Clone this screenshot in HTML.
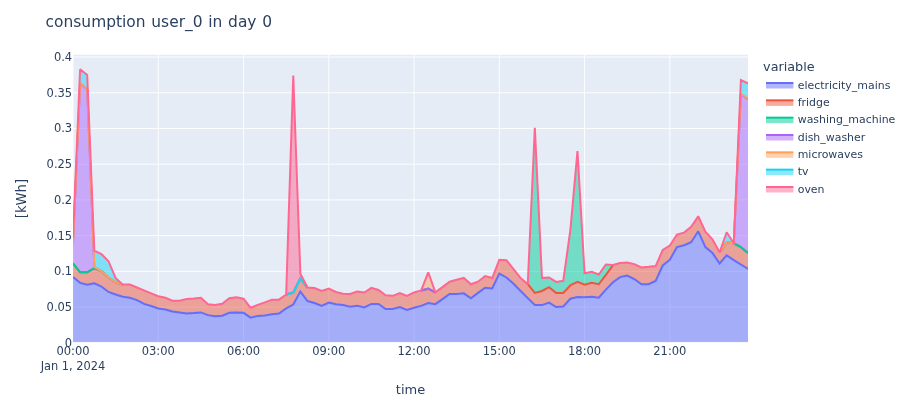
<!DOCTYPE html>
<html><head><meta charset="utf-8"><title>consumption user_0 in day 0</title>
<style>
html,body{margin:0;padding:0;background:#fff;}
svg{display:block;}
text{font-family:"DejaVu Sans", "Liberation Sans", sans-serif;fill:#2a3f5f;}
</style></head><body>
<svg width="912" height="415" viewBox="0 0 912 415">
<rect x="0" y="0" width="912" height="415" fill="#ffffff"/>
<rect x="73.0" y="54.7" width="675.0" height="287.6" fill="#E5ECF6"/>
<defs><clipPath id="cp"><rect x="73.0" y="54.7" width="675.0" height="287.6"/></clipPath></defs>
<g clip-path="url(#cp)">

<line x1="73.00" x2="73.00" y1="54.7" y2="342.3" stroke="#fff" stroke-width="0.91"/>
<line x1="158.26" x2="158.26" y1="54.7" y2="342.3" stroke="#fff" stroke-width="0.91"/>
<line x1="243.53" x2="243.53" y1="54.7" y2="342.3" stroke="#fff" stroke-width="0.91"/>
<line x1="328.79" x2="328.79" y1="54.7" y2="342.3" stroke="#fff" stroke-width="0.91"/>
<line x1="414.05" x2="414.05" y1="54.7" y2="342.3" stroke="#fff" stroke-width="0.91"/>
<line x1="499.32" x2="499.32" y1="54.7" y2="342.3" stroke="#fff" stroke-width="0.91"/>
<line x1="584.58" x2="584.58" y1="54.7" y2="342.3" stroke="#fff" stroke-width="0.91"/>
<line x1="669.84" x2="669.84" y1="54.7" y2="342.3" stroke="#fff" stroke-width="0.91"/>
<line x1="73.0" x2="748.0" y1="307.12" y2="307.12" stroke="#fff" stroke-width="0.91"/>
<line x1="73.0" x2="748.0" y1="271.39" y2="271.39" stroke="#fff" stroke-width="0.91"/>
<line x1="73.0" x2="748.0" y1="235.66" y2="235.66" stroke="#fff" stroke-width="0.91"/>
<line x1="73.0" x2="748.0" y1="199.93" y2="199.93" stroke="#fff" stroke-width="0.91"/>
<line x1="73.0" x2="748.0" y1="164.20" y2="164.20" stroke="#fff" stroke-width="0.91"/>
<line x1="73.0" x2="748.0" y1="128.47" y2="128.47" stroke="#fff" stroke-width="0.91"/>
<line x1="73.0" x2="748.0" y1="92.74" y2="92.74" stroke="#fff" stroke-width="0.91"/>
<line x1="73.0" x2="748.0" y1="57.01" y2="57.01" stroke="#fff" stroke-width="0.91"/>
<line x1="73.0" x2="748.0" y1="342.3" y2="342.3" stroke="#fff" stroke-width="1.82"/>
<polygon points="73.00,276.90 80.11,282.88 87.21,284.81 94.32,283.27 101.42,286.55 108.53,291.96 115.63,294.47 122.74,296.78 129.84,297.75 136.95,300.07 144.05,303.93 151.16,306.05 158.26,308.56 165.37,309.53 172.47,311.46 179.58,312.42 186.68,313.39 193.79,313.00 200.89,312.42 208.00,315.12 215.11,316.28 222.21,315.70 229.32,312.81 236.42,312.42 243.53,312.81 250.63,317.63 257.74,315.90 264.84,315.51 271.95,314.16 279.05,313.58 286.16,308.37 293.26,304.51 300.37,291.57 307.47,301.03 314.58,302.96 321.68,305.86 328.79,302.58 335.89,304.31 343.00,305.08 350.11,306.82 357.21,305.86 364.32,307.40 371.42,303.93 378.53,303.93 385.63,308.95 392.74,308.95 399.84,307.02 406.95,309.91 414.05,307.79 421.16,305.86 428.26,302.96 435.37,304.12 442.47,299.10 449.58,293.89 456.68,294.08 463.79,293.31 470.89,298.33 478.00,292.92 485.11,287.71 492.21,288.48 499.32,273.62 506.42,277.48 513.53,283.85 520.63,290.99 527.74,298.14 534.84,305.08 541.95,305.08 549.05,302.58 556.16,307.02 563.26,306.44 570.37,298.71 577.47,296.98 584.58,297.36 591.68,296.78 598.79,297.75 605.89,289.64 613.00,282.31 620.11,277.09 627.21,275.55 634.32,279.02 641.42,284.24 648.53,284.24 655.63,280.95 662.74,265.46 669.84,259.67 676.95,247.12 684.05,245.19 691.16,242.30 698.26,231.29 705.37,247.12 712.47,252.92 719.58,263.53 726.68,255.42 733.79,260.06 740.89,264.50 748.00,268.94 748.00,342.30 740.89,342.30 733.79,342.30 726.68,342.30 719.58,342.30 712.47,342.30 705.37,342.30 698.26,342.30 691.16,342.30 684.05,342.30 676.95,342.30 669.84,342.30 662.74,342.30 655.63,342.30 648.53,342.30 641.42,342.30 634.32,342.30 627.21,342.30 620.11,342.30 613.00,342.30 605.89,342.30 598.79,342.30 591.68,342.30 584.58,342.30 577.47,342.30 570.37,342.30 563.26,342.30 556.16,342.30 549.05,342.30 541.95,342.30 534.84,342.30 527.74,342.30 520.63,342.30 513.53,342.30 506.42,342.30 499.32,342.30 492.21,342.30 485.11,342.30 478.00,342.30 470.89,342.30 463.79,342.30 456.68,342.30 449.58,342.30 442.47,342.30 435.37,342.30 428.26,342.30 421.16,342.30 414.05,342.30 406.95,342.30 399.84,342.30 392.74,342.30 385.63,342.30 378.53,342.30 371.42,342.30 364.32,342.30 357.21,342.30 350.11,342.30 343.00,342.30 335.89,342.30 328.79,342.30 321.68,342.30 314.58,342.30 307.47,342.30 300.37,342.30 293.26,342.30 286.16,342.30 279.05,342.30 271.95,342.30 264.84,342.30 257.74,342.30 250.63,342.30 243.53,342.30 236.42,342.30 229.32,342.30 222.21,342.30 215.11,342.30 208.00,342.30 200.89,342.30 193.79,342.30 186.68,342.30 179.58,342.30 172.47,342.30 165.37,342.30 158.26,342.30 151.16,342.30 144.05,342.30 136.95,342.30 129.84,342.30 122.74,342.30 115.63,342.30 108.53,342.30 101.42,342.30 94.32,342.30 87.21,342.30 80.11,342.30 73.00,342.30" fill="#636EFA" fill-opacity="0.5" stroke="none"/>
<polygon points="73.00,263.50 80.11,272.30 87.21,272.30 94.32,268.20 101.42,271.10 108.53,277.50 115.63,282.30 122.74,284.62 129.84,284.62 136.95,287.52 144.05,290.41 151.16,293.31 158.26,296.20 165.37,297.75 172.47,300.64 179.58,300.84 186.68,299.10 193.79,298.52 200.89,297.75 208.00,304.31 215.11,304.89 222.21,303.73 229.32,298.14 236.42,297.17 243.53,298.71 250.63,307.79 257.74,304.89 264.84,302.38 271.95,299.68 279.05,299.68 286.16,294.47 293.26,292.54 300.37,278.44 307.47,287.52 314.58,288.10 321.68,290.99 328.79,288.48 335.89,291.96 343.00,293.69 350.11,293.89 357.21,291.57 364.32,292.54 371.42,287.90 378.53,290.03 385.63,295.24 392.74,295.82 399.84,293.12 406.95,295.82 414.05,292.34 421.16,290.41 428.26,288.68 435.37,292.34 442.47,287.13 449.58,281.73 456.68,279.80 463.79,277.86 470.89,284.24 478.00,281.73 485.11,276.13 492.21,278.06 499.32,259.80 506.42,260.20 513.53,269.18 520.63,278.06 527.74,284.24 534.84,292.92 541.95,290.99 549.05,287.13 556.16,292.92 563.26,292.92 570.37,285.20 577.47,281.92 584.58,284.62 591.68,282.69 598.79,284.24 605.89,274.97 613.00,265.08 620.11,262.95 627.21,262.57 634.32,264.11 641.42,267.39 648.53,266.81 655.63,266.04 662.74,250.02 669.84,245.58 676.95,234.58 684.05,232.64 691.16,226.85 698.26,216.24 705.37,231.68 712.47,239.40 719.58,252.34 726.68,242.30 733.79,243.26 740.89,247.12 748.00,252.92 748.00,268.94 740.89,264.50 733.79,260.06 726.68,255.42 719.58,263.53 712.47,252.92 705.37,247.12 698.26,231.29 691.16,242.30 684.05,245.19 676.95,247.12 669.84,259.67 662.74,265.46 655.63,280.95 648.53,284.24 641.42,284.24 634.32,279.02 627.21,275.55 620.11,277.09 613.00,282.31 605.89,289.64 598.79,297.75 591.68,296.78 584.58,297.36 577.47,296.98 570.37,298.71 563.26,306.44 556.16,307.02 549.05,302.58 541.95,305.08 534.84,305.08 527.74,298.14 520.63,290.99 513.53,283.85 506.42,277.48 499.32,273.62 492.21,288.48 485.11,287.71 478.00,292.92 470.89,298.33 463.79,293.31 456.68,294.08 449.58,293.89 442.47,299.10 435.37,304.12 428.26,302.96 421.16,305.86 414.05,307.79 406.95,309.91 399.84,307.02 392.74,308.95 385.63,308.95 378.53,303.93 371.42,303.93 364.32,307.40 357.21,305.86 350.11,306.82 343.00,305.08 335.89,304.31 328.79,302.58 321.68,305.86 314.58,302.96 307.47,301.03 300.37,291.57 293.26,304.51 286.16,308.37 279.05,313.58 271.95,314.16 264.84,315.51 257.74,315.90 250.63,317.63 243.53,312.81 236.42,312.42 229.32,312.81 222.21,315.70 215.11,316.28 208.00,315.12 200.89,312.42 193.79,313.00 186.68,313.39 179.58,312.42 172.47,311.46 165.37,309.53 158.26,308.56 151.16,306.05 144.05,303.93 136.95,300.07 129.84,297.75 122.74,296.78 115.63,294.47 108.53,291.96 101.42,286.55 94.32,283.27 87.21,284.81 80.11,282.88 73.00,276.90" fill="#EF553B" fill-opacity="0.5" stroke="none"/>
<polyline points="73.00,276.90 80.11,282.88 87.21,284.81 94.32,283.27 101.42,286.55 108.53,291.96 115.63,294.47 122.74,296.78 129.84,297.75 136.95,300.07 144.05,303.93 151.16,306.05 158.26,308.56 165.37,309.53 172.47,311.46 179.58,312.42 186.68,313.39 193.79,313.00 200.89,312.42 208.00,315.12 215.11,316.28 222.21,315.70 229.32,312.81 236.42,312.42 243.53,312.81 250.63,317.63 257.74,315.90 264.84,315.51 271.95,314.16 279.05,313.58 286.16,308.37 293.26,304.51 300.37,291.57 307.47,301.03 314.58,302.96 321.68,305.86 328.79,302.58 335.89,304.31 343.00,305.08 350.11,306.82 357.21,305.86 364.32,307.40 371.42,303.93 378.53,303.93 385.63,308.95 392.74,308.95 399.84,307.02 406.95,309.91 414.05,307.79 421.16,305.86 428.26,302.96 435.37,304.12 442.47,299.10 449.58,293.89 456.68,294.08 463.79,293.31 470.89,298.33 478.00,292.92 485.11,287.71 492.21,288.48 499.32,273.62 506.42,277.48 513.53,283.85 520.63,290.99 527.74,298.14 534.84,305.08 541.95,305.08 549.05,302.58 556.16,307.02 563.26,306.44 570.37,298.71 577.47,296.98 584.58,297.36 591.68,296.78 598.79,297.75 605.89,289.64 613.00,282.31 620.11,277.09 627.21,275.55 634.32,279.02 641.42,284.24 648.53,284.24 655.63,280.95 662.74,265.46 669.84,259.67 676.95,247.12 684.05,245.19 691.16,242.30 698.26,231.29 705.37,247.12 712.47,252.92 719.58,263.53 726.68,255.42 733.79,260.06 740.89,264.50 748.00,268.94" fill="none" stroke="#636EFA" stroke-width="2.0" stroke-linejoin="miter" stroke-miterlimit="2"/>
<polygon points="73.00,263.50 80.11,272.30 87.21,272.30 94.32,268.20 101.42,271.10 108.53,277.50 115.63,282.30 122.74,284.62 129.84,284.62 136.95,287.52 144.05,290.41 151.16,293.31 158.26,296.20 165.37,297.75 172.47,300.64 179.58,300.84 186.68,299.10 193.79,298.52 200.89,297.75 208.00,304.31 215.11,304.89 222.21,303.73 229.32,298.14 236.42,297.17 243.53,298.71 250.63,307.79 257.74,304.89 264.84,302.38 271.95,299.68 279.05,299.68 286.16,294.47 293.26,292.54 300.37,278.44 307.47,287.52 314.58,288.10 321.68,290.99 328.79,288.48 335.89,291.96 343.00,293.69 350.11,293.89 357.21,291.57 364.32,292.54 371.42,287.90 378.53,290.03 385.63,295.24 392.74,295.82 399.84,293.12 406.95,295.82 414.05,292.34 421.16,290.41 428.26,288.68 435.37,292.34 442.47,287.13 449.58,281.73 456.68,279.80 463.79,277.86 470.89,284.24 478.00,281.73 485.11,276.13 492.21,278.06 499.32,259.80 506.42,260.20 513.53,269.18 520.63,278.06 527.74,284.24 534.84,127.80 541.95,278.06 549.05,277.48 556.16,281.92 563.26,280.76 570.37,230.00 577.47,151.00 584.58,273.19 591.68,271.83 598.79,274.54 605.89,264.50 613.00,265.08 620.11,262.95 627.21,262.57 634.32,264.11 641.42,267.39 648.53,266.81 655.63,266.04 662.74,250.02 669.84,245.58 676.95,234.58 684.05,232.64 691.16,226.85 698.26,216.24 705.37,231.68 712.47,239.40 719.58,252.34 726.68,242.30 733.79,243.26 740.89,247.12 748.00,252.92 748.00,252.92 740.89,247.12 733.79,243.26 726.68,242.30 719.58,252.34 712.47,239.40 705.37,231.68 698.26,216.24 691.16,226.85 684.05,232.64 676.95,234.58 669.84,245.58 662.74,250.02 655.63,266.04 648.53,266.81 641.42,267.39 634.32,264.11 627.21,262.57 620.11,262.95 613.00,265.08 605.89,274.97 598.79,284.24 591.68,282.69 584.58,284.62 577.47,281.92 570.37,285.20 563.26,292.92 556.16,292.92 549.05,287.13 541.95,290.99 534.84,292.92 527.74,284.24 520.63,278.06 513.53,269.18 506.42,260.20 499.32,259.80 492.21,278.06 485.11,276.13 478.00,281.73 470.89,284.24 463.79,277.86 456.68,279.80 449.58,281.73 442.47,287.13 435.37,292.34 428.26,288.68 421.16,290.41 414.05,292.34 406.95,295.82 399.84,293.12 392.74,295.82 385.63,295.24 378.53,290.03 371.42,287.90 364.32,292.54 357.21,291.57 350.11,293.89 343.00,293.69 335.89,291.96 328.79,288.48 321.68,290.99 314.58,288.10 307.47,287.52 300.37,278.44 293.26,292.54 286.16,294.47 279.05,299.68 271.95,299.68 264.84,302.38 257.74,304.89 250.63,307.79 243.53,298.71 236.42,297.17 229.32,298.14 222.21,303.73 215.11,304.89 208.00,304.31 200.89,297.75 193.79,298.52 186.68,299.10 179.58,300.84 172.47,300.64 165.37,297.75 158.26,296.20 151.16,293.31 144.05,290.41 136.95,287.52 129.84,284.62 122.74,284.62 115.63,282.30 108.53,277.50 101.42,271.10 94.32,268.20 87.21,272.30 80.11,272.30 73.00,263.50" fill="#00CC96" fill-opacity="0.5" stroke="none"/>
<polyline points="73.00,263.50 80.11,272.30 87.21,272.30 94.32,268.20 101.42,271.10 108.53,277.50 115.63,282.30 122.74,284.62" fill="none" stroke="#EF553B" stroke-width="2.0" stroke-linejoin="miter" stroke-miterlimit="2"/>
<polyline points="286.16,294.47 293.26,292.54 300.37,278.44 307.47,287.52" fill="none" stroke="#EF553B" stroke-width="2.0" stroke-linejoin="miter" stroke-miterlimit="2"/>
<polyline points="421.16,290.41 428.26,288.68 435.37,292.34" fill="none" stroke="#EF553B" stroke-width="2.0" stroke-linejoin="miter" stroke-miterlimit="2"/>
<polyline points="527.74,284.24 534.84,292.92 541.95,290.99 549.05,287.13 556.16,292.92 563.26,292.92 570.37,285.20 577.47,281.92 584.58,284.62 591.68,282.69 598.79,284.24 605.89,274.97 613.00,265.08" fill="none" stroke="#EF553B" stroke-width="2.0" stroke-linejoin="miter" stroke-miterlimit="2"/>
<polyline points="719.58,252.34 726.68,242.30 733.79,243.26 740.89,247.12 748.00,252.92" fill="none" stroke="#EF553B" stroke-width="2.0" stroke-linejoin="miter" stroke-miterlimit="2"/>
<polygon points="73.00,245.30 80.11,83.60 87.21,88.90 94.32,267.20 101.42,271.10 108.53,277.50 115.63,282.30 122.74,284.62 129.84,284.62 136.95,287.52 144.05,290.41 151.16,293.31 158.26,296.20 165.37,297.75 172.47,300.64 179.58,300.84 186.68,299.10 193.79,298.52 200.89,297.75 208.00,304.31 215.11,304.89 222.21,303.73 229.32,298.14 236.42,297.17 243.53,298.71 250.63,307.79 257.74,304.89 264.84,302.38 271.95,299.68 279.05,299.68 286.16,294.47 293.26,292.54 300.37,278.44 307.47,287.52 314.58,288.10 321.68,290.99 328.79,288.48 335.89,291.96 343.00,293.69 350.11,293.89 357.21,291.57 364.32,292.54 371.42,287.90 378.53,290.03 385.63,295.24 392.74,295.82 399.84,293.12 406.95,295.82 414.05,292.34 421.16,290.41 428.26,288.68 435.37,292.34 442.47,287.13 449.58,281.73 456.68,279.80 463.79,277.86 470.89,284.24 478.00,281.73 485.11,276.13 492.21,278.06 499.32,259.80 506.42,260.20 513.53,269.18 520.63,278.06 527.74,284.24 534.84,127.80 541.95,278.06 549.05,277.48 556.16,281.92 563.26,280.76 570.37,230.00 577.47,151.00 584.58,273.19 591.68,271.83 598.79,274.54 605.89,264.50 613.00,265.08 620.11,262.95 627.21,262.57 634.32,264.11 641.42,267.39 648.53,266.81 655.63,266.04 662.74,250.02 669.84,245.58 676.95,234.58 684.05,232.64 691.16,226.85 698.26,216.24 705.37,231.68 712.47,239.40 719.58,252.34 726.68,242.30 733.79,243.26 740.89,94.10 748.00,99.10 748.00,252.92 740.89,247.12 733.79,243.26 726.68,242.30 719.58,252.34 712.47,239.40 705.37,231.68 698.26,216.24 691.16,226.85 684.05,232.64 676.95,234.58 669.84,245.58 662.74,250.02 655.63,266.04 648.53,266.81 641.42,267.39 634.32,264.11 627.21,262.57 620.11,262.95 613.00,265.08 605.89,264.50 598.79,274.54 591.68,271.83 584.58,273.19 577.47,151.00 570.37,230.00 563.26,280.76 556.16,281.92 549.05,277.48 541.95,278.06 534.84,127.80 527.74,284.24 520.63,278.06 513.53,269.18 506.42,260.20 499.32,259.80 492.21,278.06 485.11,276.13 478.00,281.73 470.89,284.24 463.79,277.86 456.68,279.80 449.58,281.73 442.47,287.13 435.37,292.34 428.26,288.68 421.16,290.41 414.05,292.34 406.95,295.82 399.84,293.12 392.74,295.82 385.63,295.24 378.53,290.03 371.42,287.90 364.32,292.54 357.21,291.57 350.11,293.89 343.00,293.69 335.89,291.96 328.79,288.48 321.68,290.99 314.58,288.10 307.47,287.52 300.37,278.44 293.26,292.54 286.16,294.47 279.05,299.68 271.95,299.68 264.84,302.38 257.74,304.89 250.63,307.79 243.53,298.71 236.42,297.17 229.32,298.14 222.21,303.73 215.11,304.89 208.00,304.31 200.89,297.75 193.79,298.52 186.68,299.10 179.58,300.84 172.47,300.64 165.37,297.75 158.26,296.20 151.16,293.31 144.05,290.41 136.95,287.52 129.84,284.62 122.74,284.62 115.63,282.30 108.53,277.50 101.42,271.10 94.32,268.20 87.21,272.30 80.11,272.30 73.00,263.50" fill="#AB63FA" fill-opacity="0.5" stroke="none"/>
<polyline points="73.00,263.50 80.11,272.30 87.21,272.30 94.32,268.20 101.42,271.10 108.53,277.50 115.63,282.30 122.74,284.62" fill="none" stroke="#00CC96" stroke-width="2.0" stroke-linejoin="miter" stroke-miterlimit="2"/>
<polyline points="286.16,294.47 293.26,292.54 300.37,278.44 307.47,287.52" fill="none" stroke="#00CC96" stroke-width="2.0" stroke-linejoin="miter" stroke-miterlimit="2"/>
<polyline points="421.16,290.41 428.26,288.68 435.37,292.34" fill="none" stroke="#00CC96" stroke-width="2.0" stroke-linejoin="miter" stroke-miterlimit="2"/>
<polyline points="719.58,252.34 726.68,242.30 733.79,243.26 740.89,247.12 748.00,252.92" fill="none" stroke="#00CC96" stroke-width="2.0" stroke-linejoin="miter" stroke-miterlimit="2"/>
<polygon points="73.00,245.00 80.11,83.30 87.21,88.60 94.32,267.00 101.42,271.10 108.53,277.50 115.63,282.30 122.74,284.62 129.84,284.62 136.95,287.52 144.05,290.41 151.16,293.31 158.26,296.20 165.37,297.75 172.47,300.64 179.58,300.84 186.68,299.10 193.79,298.52 200.89,297.75 208.00,304.31 215.11,304.89 222.21,303.73 229.32,298.14 236.42,297.17 243.53,298.71 250.63,307.79 257.74,304.89 264.84,302.38 271.95,299.68 279.05,299.68 286.16,294.47 293.26,292.54 300.37,278.44 307.47,287.52 314.58,288.10 321.68,290.99 328.79,288.48 335.89,291.96 343.00,293.69 350.11,293.89 357.21,291.57 364.32,292.54 371.42,287.90 378.53,290.03 385.63,295.24 392.74,295.82 399.84,293.12 406.95,295.82 414.05,292.34 421.16,290.41 428.26,272.27 435.37,292.34 442.47,287.13 449.58,281.73 456.68,279.80 463.79,277.86 470.89,284.24 478.00,281.73 485.11,276.13 492.21,278.06 499.32,259.80 506.42,260.20 513.53,269.18 520.63,278.06 527.74,284.24 534.84,127.80 541.95,278.06 549.05,277.48 556.16,281.92 563.26,280.76 570.37,230.00 577.47,151.00 584.58,273.19 591.68,271.83 598.79,274.54 605.89,264.50 613.00,265.08 620.11,262.95 627.21,262.57 634.32,264.11 641.42,267.39 648.53,266.81 655.63,266.04 662.74,250.02 669.84,245.58 676.95,234.58 684.05,232.64 691.16,226.85 698.26,216.24 705.37,231.68 712.47,239.40 719.58,252.34 726.68,242.30 733.79,243.26 740.89,93.80 748.00,98.80 748.00,99.10 740.89,94.10 733.79,243.26 726.68,242.30 719.58,252.34 712.47,239.40 705.37,231.68 698.26,216.24 691.16,226.85 684.05,232.64 676.95,234.58 669.84,245.58 662.74,250.02 655.63,266.04 648.53,266.81 641.42,267.39 634.32,264.11 627.21,262.57 620.11,262.95 613.00,265.08 605.89,264.50 598.79,274.54 591.68,271.83 584.58,273.19 577.47,151.00 570.37,230.00 563.26,280.76 556.16,281.92 549.05,277.48 541.95,278.06 534.84,127.80 527.74,284.24 520.63,278.06 513.53,269.18 506.42,260.20 499.32,259.80 492.21,278.06 485.11,276.13 478.00,281.73 470.89,284.24 463.79,277.86 456.68,279.80 449.58,281.73 442.47,287.13 435.37,292.34 428.26,288.68 421.16,290.41 414.05,292.34 406.95,295.82 399.84,293.12 392.74,295.82 385.63,295.24 378.53,290.03 371.42,287.90 364.32,292.54 357.21,291.57 350.11,293.89 343.00,293.69 335.89,291.96 328.79,288.48 321.68,290.99 314.58,288.10 307.47,287.52 300.37,278.44 293.26,292.54 286.16,294.47 279.05,299.68 271.95,299.68 264.84,302.38 257.74,304.89 250.63,307.79 243.53,298.71 236.42,297.17 229.32,298.14 222.21,303.73 215.11,304.89 208.00,304.31 200.89,297.75 193.79,298.52 186.68,299.10 179.58,300.84 172.47,300.64 165.37,297.75 158.26,296.20 151.16,293.31 144.05,290.41 136.95,287.52 129.84,284.62 122.74,284.62 115.63,282.30 108.53,277.50 101.42,271.10 94.32,267.20 87.21,88.90 80.11,83.60 73.00,245.30" fill="#FFA15A" fill-opacity="0.5" stroke="none"/>
<polyline points="73.00,245.30 80.11,83.60 87.21,88.90 94.32,267.20 101.42,271.10 108.53,277.50 115.63,282.30 122.74,284.62" fill="none" stroke="#AB63FA" stroke-width="2.0" stroke-linejoin="miter" stroke-miterlimit="2"/>
<polyline points="286.16,294.47 293.26,292.54 300.37,278.44 307.47,287.52" fill="none" stroke="#AB63FA" stroke-width="2.0" stroke-linejoin="miter" stroke-miterlimit="2"/>
<polyline points="421.16,290.41 428.26,288.68 435.37,292.34" fill="none" stroke="#AB63FA" stroke-width="2.0" stroke-linejoin="miter" stroke-miterlimit="2"/>
<polyline points="719.58,252.34 726.68,242.30 733.79,243.26 740.89,94.10 748.00,99.10" fill="none" stroke="#AB63FA" stroke-width="2.0" stroke-linejoin="miter" stroke-miterlimit="2"/>
<polygon points="73.00,237.50 80.11,69.30 87.21,75.00 94.32,250.60 101.42,254.00 108.53,261.20 115.63,278.06 122.74,284.62 129.84,284.62 136.95,287.52 144.05,290.41 151.16,293.31 158.26,296.20 165.37,297.75 172.47,300.64 179.58,300.84 186.68,299.10 193.79,298.52 200.89,297.75 208.00,304.31 215.11,304.89 222.21,303.73 229.32,298.14 236.42,297.17 243.53,298.71 250.63,307.79 257.74,304.89 264.84,302.38 271.95,299.68 279.05,299.68 286.16,294.47 293.26,292.54 300.37,278.44 307.47,287.52 314.58,288.10 321.68,290.99 328.79,288.48 335.89,291.96 343.00,293.69 350.11,293.89 357.21,291.57 364.32,292.54 371.42,287.90 378.53,290.03 385.63,295.24 392.74,295.82 399.84,293.12 406.95,295.82 414.05,292.34 421.16,290.41 428.26,272.27 435.37,292.34 442.47,287.13 449.58,281.73 456.68,279.80 463.79,277.86 470.89,284.24 478.00,281.73 485.11,276.13 492.21,278.06 499.32,259.80 506.42,260.20 513.53,269.18 520.63,278.06 527.74,284.24 534.84,127.80 541.95,278.06 549.05,277.48 556.16,281.92 563.26,280.76 570.37,230.00 577.47,151.00 584.58,273.19 591.68,271.83 598.79,274.54 605.89,264.50 613.00,265.08 620.11,262.95 627.21,262.57 634.32,264.11 641.42,267.39 648.53,266.81 655.63,266.04 662.74,250.02 669.84,245.58 676.95,234.58 684.05,232.64 691.16,226.85 698.26,216.24 705.37,231.68 712.47,239.40 719.58,252.34 726.68,232.26 733.79,243.26 740.89,80.00 748.00,83.30 748.00,98.80 740.89,93.80 733.79,243.26 726.68,242.30 719.58,252.34 712.47,239.40 705.37,231.68 698.26,216.24 691.16,226.85 684.05,232.64 676.95,234.58 669.84,245.58 662.74,250.02 655.63,266.04 648.53,266.81 641.42,267.39 634.32,264.11 627.21,262.57 620.11,262.95 613.00,265.08 605.89,264.50 598.79,274.54 591.68,271.83 584.58,273.19 577.47,151.00 570.37,230.00 563.26,280.76 556.16,281.92 549.05,277.48 541.95,278.06 534.84,127.80 527.74,284.24 520.63,278.06 513.53,269.18 506.42,260.20 499.32,259.80 492.21,278.06 485.11,276.13 478.00,281.73 470.89,284.24 463.79,277.86 456.68,279.80 449.58,281.73 442.47,287.13 435.37,292.34 428.26,272.27 421.16,290.41 414.05,292.34 406.95,295.82 399.84,293.12 392.74,295.82 385.63,295.24 378.53,290.03 371.42,287.90 364.32,292.54 357.21,291.57 350.11,293.89 343.00,293.69 335.89,291.96 328.79,288.48 321.68,290.99 314.58,288.10 307.47,287.52 300.37,278.44 293.26,292.54 286.16,294.47 279.05,299.68 271.95,299.68 264.84,302.38 257.74,304.89 250.63,307.79 243.53,298.71 236.42,297.17 229.32,298.14 222.21,303.73 215.11,304.89 208.00,304.31 200.89,297.75 193.79,298.52 186.68,299.10 179.58,300.84 172.47,300.64 165.37,297.75 158.26,296.20 151.16,293.31 144.05,290.41 136.95,287.52 129.84,284.62 122.74,284.62 115.63,282.30 108.53,277.50 101.42,271.10 94.32,267.00 87.21,88.60 80.11,83.30 73.00,245.00" fill="#19D3F3" fill-opacity="0.5" stroke="none"/>
<polyline points="73.00,245.00 80.11,83.30 87.21,88.60 94.32,267.00 101.42,271.10 108.53,277.50 115.63,282.30 122.74,284.62" fill="none" stroke="#FFA15A" stroke-width="2.0" stroke-linejoin="miter" stroke-miterlimit="2"/>
<polyline points="286.16,294.47 293.26,292.54 300.37,278.44 307.47,287.52" fill="none" stroke="#FFA15A" stroke-width="2.0" stroke-linejoin="miter" stroke-miterlimit="2"/>
<polyline points="719.58,252.34 726.68,242.30 733.79,243.26 740.89,93.80 748.00,98.80" fill="none" stroke="#FFA15A" stroke-width="2.0" stroke-linejoin="miter" stroke-miterlimit="2"/>
<polygon points="73.00,237.50 80.11,69.30 87.21,75.00 94.32,250.60 101.42,254.00 108.53,261.20 115.63,278.06 122.74,284.62 129.84,284.62 136.95,287.52 144.05,290.41 151.16,293.31 158.26,296.20 165.37,297.75 172.47,300.64 179.58,300.84 186.68,299.10 193.79,298.52 200.89,297.75 208.00,304.31 215.11,304.89 222.21,303.73 229.32,298.14 236.42,297.17 243.53,298.71 250.63,307.79 257.74,304.89 264.84,302.38 271.95,299.68 279.05,299.68 286.16,294.47 293.26,75.50 300.37,273.62 307.47,287.52 314.58,288.10 321.68,290.99 328.79,288.48 335.89,291.96 343.00,293.69 350.11,293.89 357.21,291.57 364.32,292.54 371.42,287.90 378.53,290.03 385.63,295.24 392.74,295.82 399.84,293.12 406.95,295.82 414.05,292.34 421.16,290.41 428.26,272.27 435.37,292.34 442.47,287.13 449.58,281.73 456.68,279.80 463.79,277.86 470.89,284.24 478.00,281.73 485.11,276.13 492.21,278.06 499.32,259.80 506.42,260.20 513.53,269.18 520.63,278.06 527.74,284.24 534.84,127.80 541.95,278.06 549.05,277.48 556.16,281.92 563.26,280.76 570.37,230.00 577.47,151.00 584.58,273.19 591.68,271.83 598.79,274.54 605.89,264.50 613.00,265.08 620.11,262.95 627.21,262.57 634.32,264.11 641.42,267.39 648.53,266.81 655.63,266.04 662.74,250.02 669.84,245.58 676.95,234.58 684.05,232.64 691.16,226.85 698.26,216.24 705.37,231.68 712.47,239.40 719.58,252.34 726.68,232.26 733.79,243.26 740.89,80.00 748.00,83.30 748.00,83.30 740.89,80.00 733.79,243.26 726.68,232.26 719.58,252.34 712.47,239.40 705.37,231.68 698.26,216.24 691.16,226.85 684.05,232.64 676.95,234.58 669.84,245.58 662.74,250.02 655.63,266.04 648.53,266.81 641.42,267.39 634.32,264.11 627.21,262.57 620.11,262.95 613.00,265.08 605.89,264.50 598.79,274.54 591.68,271.83 584.58,273.19 577.47,151.00 570.37,230.00 563.26,280.76 556.16,281.92 549.05,277.48 541.95,278.06 534.84,127.80 527.74,284.24 520.63,278.06 513.53,269.18 506.42,260.20 499.32,259.80 492.21,278.06 485.11,276.13 478.00,281.73 470.89,284.24 463.79,277.86 456.68,279.80 449.58,281.73 442.47,287.13 435.37,292.34 428.26,272.27 421.16,290.41 414.05,292.34 406.95,295.82 399.84,293.12 392.74,295.82 385.63,295.24 378.53,290.03 371.42,287.90 364.32,292.54 357.21,291.57 350.11,293.89 343.00,293.69 335.89,291.96 328.79,288.48 321.68,290.99 314.58,288.10 307.47,287.52 300.37,278.44 293.26,292.54 286.16,294.47 279.05,299.68 271.95,299.68 264.84,302.38 257.74,304.89 250.63,307.79 243.53,298.71 236.42,297.17 229.32,298.14 222.21,303.73 215.11,304.89 208.00,304.31 200.89,297.75 193.79,298.52 186.68,299.10 179.58,300.84 172.47,300.64 165.37,297.75 158.26,296.20 151.16,293.31 144.05,290.41 136.95,287.52 129.84,284.62 122.74,284.62 115.63,278.06 108.53,261.20 101.42,254.00 94.32,250.60 87.21,75.00 80.11,69.30 73.00,237.50" fill="#FF6692" fill-opacity="0.5" stroke="none"/>
<polyline points="286.16,294.47 293.26,292.54 300.37,278.44 307.47,287.52" fill="none" stroke="#19D3F3" stroke-width="2.0" stroke-linejoin="miter" stroke-miterlimit="2"/>
<polyline points="73.00,237.50 80.11,69.30 87.21,75.00 94.32,250.60 101.42,254.00 108.53,261.20 115.63,278.06 122.74,284.62 129.84,284.62 136.95,287.52 144.05,290.41 151.16,293.31 158.26,296.20 165.37,297.75 172.47,300.64 179.58,300.84 186.68,299.10 193.79,298.52 200.89,297.75 208.00,304.31 215.11,304.89 222.21,303.73 229.32,298.14 236.42,297.17 243.53,298.71 250.63,307.79 257.74,304.89 264.84,302.38 271.95,299.68 279.05,299.68 286.16,294.47 293.26,75.50 300.37,273.62 307.47,287.52 314.58,288.10 321.68,290.99 328.79,288.48 335.89,291.96 343.00,293.69 350.11,293.89 357.21,291.57 364.32,292.54 371.42,287.90 378.53,290.03 385.63,295.24 392.74,295.82 399.84,293.12 406.95,295.82 414.05,292.34 421.16,290.41 428.26,272.27 435.37,292.34 442.47,287.13 449.58,281.73 456.68,279.80 463.79,277.86 470.89,284.24 478.00,281.73 485.11,276.13 492.21,278.06 499.32,259.80 506.42,260.20 513.53,269.18 520.63,278.06 527.74,284.24 534.84,127.80 541.95,278.06 549.05,277.48 556.16,281.92 563.26,280.76 570.37,230.00 577.47,151.00 584.58,273.19 591.68,271.83 598.79,274.54 605.89,264.50 613.00,265.08 620.11,262.95 627.21,262.57 634.32,264.11 641.42,267.39 648.53,266.81 655.63,266.04 662.74,250.02 669.84,245.58 676.95,234.58 684.05,232.64 691.16,226.85 698.26,216.24 705.37,231.68 712.47,239.40 719.58,252.34 726.68,232.26 733.79,243.26 740.89,80.00 748.00,83.30" fill="none" stroke="#FF6692" stroke-width="2.0" stroke-linejoin="miter" stroke-miterlimit="2"/>
</g>
<text x="73.00" y="355.0" font-size="11.5" text-anchor="middle">00:00</text>
<text x="158.26" y="355.0" font-size="11.5" text-anchor="middle">03:00</text>
<text x="243.53" y="355.0" font-size="11.5" text-anchor="middle">06:00</text>
<text x="328.79" y="355.0" font-size="11.5" text-anchor="middle">09:00</text>
<text x="414.05" y="355.0" font-size="11.5" text-anchor="middle">12:00</text>
<text x="499.32" y="355.0" font-size="11.5" text-anchor="middle">15:00</text>
<text x="584.58" y="355.0" font-size="11.5" text-anchor="middle">18:00</text>
<text x="669.84" y="355.0" font-size="11.5" text-anchor="middle">21:00</text>
<text x="73.00" y="370.0" font-size="11.4" text-anchor="middle">Jan 1, 2024</text>
<text x="72.2" y="346.75" font-size="11.5" text-anchor="end">0</text>
<text x="72.2" y="311.02" font-size="11.5" text-anchor="end">0.05</text>
<text x="72.2" y="275.29" font-size="11.5" text-anchor="end">0.1</text>
<text x="72.2" y="239.56" font-size="11.5" text-anchor="end">0.15</text>
<text x="72.2" y="203.83" font-size="11.5" text-anchor="end">0.2</text>
<text x="72.2" y="168.10" font-size="11.5" text-anchor="end">0.25</text>
<text x="72.2" y="132.37" font-size="11.5" text-anchor="end">0.3</text>
<text x="72.2" y="96.64" font-size="11.5" text-anchor="end">0.35</text>
<text x="72.2" y="60.91" font-size="11.5" text-anchor="end">0.4</text>
<text x="45.6" y="26.6" font-size="15.45" word-spacing="0.85">consumption user_0 in day 0</text>
<text x="410.5" y="393.5" font-size="13" text-anchor="middle">time</text>
<text transform="translate(25.8,198.6) rotate(-90)" font-size="13.2" text-anchor="middle">[kWh]</text>
<text x="763.1" y="71.2" font-size="12.77">variable</text>
<rect x="766.0" y="83.00" width="27.4" height="5.5" fill="#636EFA" fill-opacity="0.5"/>
<line x1="766.0" x2="793.4" y1="83.00" y2="83.00" stroke="#636EFA" stroke-width="2.0"/>
<text x="797.7" y="88.60" font-size="10.94">electricity_mains</text>
<rect x="766.0" y="100.33" width="27.4" height="5.5" fill="#EF553B" fill-opacity="0.5"/>
<line x1="766.0" x2="793.4" y1="100.33" y2="100.33" stroke="#EF553B" stroke-width="2.0"/>
<text x="797.7" y="105.93" font-size="10.94">fridge</text>
<rect x="766.0" y="117.66" width="27.4" height="5.5" fill="#00CC96" fill-opacity="0.5"/>
<line x1="766.0" x2="793.4" y1="117.66" y2="117.66" stroke="#00CC96" stroke-width="2.0"/>
<text x="797.7" y="123.26" font-size="10.94">washing_machine</text>
<rect x="766.0" y="134.99" width="27.4" height="5.5" fill="#AB63FA" fill-opacity="0.5"/>
<line x1="766.0" x2="793.4" y1="134.99" y2="134.99" stroke="#AB63FA" stroke-width="2.0"/>
<text x="797.7" y="140.59" font-size="10.94">dish_washer</text>
<rect x="766.0" y="152.32" width="27.4" height="5.5" fill="#FFA15A" fill-opacity="0.5"/>
<line x1="766.0" x2="793.4" y1="152.32" y2="152.32" stroke="#FFA15A" stroke-width="2.0"/>
<text x="797.7" y="157.92" font-size="10.94">microwaves</text>
<rect x="766.0" y="169.65" width="27.4" height="5.5" fill="#19D3F3" fill-opacity="0.5"/>
<line x1="766.0" x2="793.4" y1="169.65" y2="169.65" stroke="#19D3F3" stroke-width="2.0"/>
<text x="797.7" y="175.25" font-size="10.94">tv</text>
<rect x="766.0" y="186.98" width="27.4" height="5.5" fill="#FF6692" fill-opacity="0.5"/>
<line x1="766.0" x2="793.4" y1="186.98" y2="186.98" stroke="#FF6692" stroke-width="2.0"/>
<text x="797.7" y="192.58" font-size="10.94">oven</text>
</svg></body></html>
